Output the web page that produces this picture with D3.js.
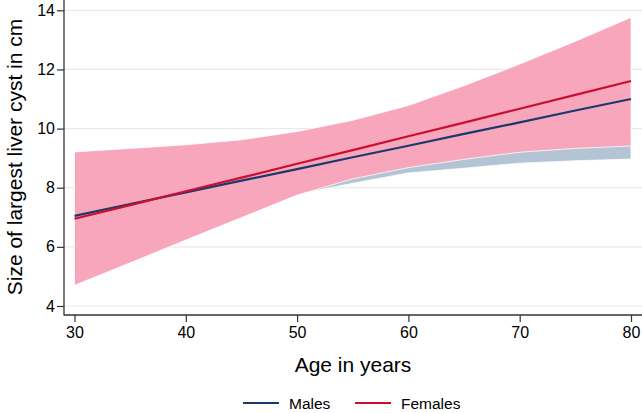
<!DOCTYPE html>
<html>
<head>
<meta charset="utf-8">
<script src="https://cdn.jsdelivr.net/npm/d3@7"></script>
<style>
  body { margin: 0; background: #fff; }
  text { font-family: "Liberation Sans", Arial, sans-serif; fill: #000; }
</style>
</head>
<body>
<div id="chart"></div>
<script>
// ages at which the fitted values / CI bounds were read
var ages = [30, 35, 40, 45, 50, 55, 60, 65, 70, 75, 80];

// fitted lines
var malesFit   = [7.05, 7.45, 7.84, 8.24, 8.63, 9.03, 9.42, 9.82, 10.21, 10.61, 11.00];
var femalesFit = [6.95, 7.41, 7.88, 8.34, 8.81, 9.27, 9.74, 10.20, 10.67, 11.14, 11.61];

// confidence bands
var malesLo   = [5.00, 5.75, 6.50, 7.20, 7.78, 8.15, 8.50, 8.66, 8.83, 8.91, 8.97];
var malesHi   = [9.05, 9.10, 9.20, 9.35, 9.60, 9.95, 10.40, 11.00, 11.70, 12.35, 13.00];
var femalesLo = [4.70, 5.46, 6.23, 6.99, 7.75, 8.30, 8.68, 8.96, 9.20, 9.33, 9.41];
var femalesHi = [9.21, 9.33, 9.45, 9.62, 9.90, 10.28, 10.78, 11.45, 12.18, 12.95, 13.76];

var xTicks = [30, 40, 50, 60, 70, 80];
var yTicks = [4, 6, 8, 10, 12, 14];

var series = ["Males", "Females"];
var lineColors = ["#1a3a6e", "#c8102e"];
var bandColors = ["#b3c5d5", "#f8a6bb"];

var W = 642, H = 413;
var left = 64, bottom = 315;

var svg = d3.select("#chart").append("svg")
    .attr("width", W).attr("height", H);

var x = d3.scaleLinear().domain([30, 80]).range([74.5, 631]);
var y = d3.scaleLinear().domain([4, 14]).range([306, 10.3]);

// gridlines
svg.append("g")
    .selectAll("line")
    .data(yTicks)
    .enter().append("line")
    .attr("x1", left).attr("x2", W)
    .attr("y1", d => y(d)).attr("y2", d => y(d))
    .attr("stroke", "#eaeaea").attr("stroke-width", 1.2);

function band(lo, hi) {
    return d3.area()
        .x((d, i) => x(ages[i]))
        .y0((d, i) => y(lo[i]))
        .y1((d, i) => y(hi[i]))(ages);
}

// male band first, female band on top
svg.append("path").attr("d", band(malesLo, malesHi))
    .attr("fill", bandColors[0]).attr("stroke", "#fff").attr("stroke-width", 0.8);
svg.append("path").attr("d", band(femalesLo, femalesHi))
    .attr("fill", bandColors[1]).attr("stroke", "#fff").attr("stroke-width", 0.8);

var line = d3.line().x((d, i) => x(ages[i])).y(d => y(d));

svg.append("path").attr("d", line(malesFit))
    .attr("fill", "none").attr("stroke", lineColors[0]).attr("stroke-width", 2.2);
svg.append("path").attr("d", line(femalesFit))
    .attr("fill", "none").attr("stroke", lineColors[1]).attr("stroke-width", 2.2);

// axes
var yAxis = svg.append("g")
    .attr("transform", `translate(${left},0)`)
    .call(d3.axisLeft(y).tickValues(yTicks).tickSize(7).tickPadding(2));
var xAxis = svg.append("g")
    .attr("transform", `translate(0,${bottom})`)
    .call(d3.axisBottom(x).tickValues(xTicks).tickSize(7).tickPadding(5));

[yAxis, xAxis].forEach(g => {
    g.select(".domain").remove();
    g.selectAll(".tick line").attr("stroke", "#333").attr("stroke-width", 1.2);
    g.selectAll(".tick text").attr("font-size", 16).attr("fill", "#000")
        .style("font-family", "Liberation Sans, Arial, sans-serif");
});

svg.append("line").attr("x1", left).attr("x2", left).attr("y1", 0).attr("y2", bottom + 0.5)
    .attr("stroke", "#333").attr("stroke-width", 1.3);
svg.append("line").attr("x1", left).attr("x2", W).attr("y1", bottom).attr("y2", bottom)
    .attr("stroke", "#333").attr("stroke-width", 1.3);

// axis titles
svg.append("text")
    .attr("x", 353).attr("y", 372)
    .attr("text-anchor", "middle")
    .attr("font-size", 21)
    .text("Age in years");

svg.append("text")
    .attr("transform", "translate(22,157) rotate(-90)")
    .attr("text-anchor", "middle")
    .attr("font-size", 21)
    .text("Size of largest liver cyst in cm");

// legend
var legendX = [243, 355];
var lg = svg.append("g");
series.forEach((s, i) => {
    lg.append("line")
        .attr("x1", legendX[i]).attr("x2", legendX[i] + 36)
        .attr("y1", 403).attr("y2", 403)
        .attr("stroke", lineColors[i]).attr("stroke-width", 2.2);
    lg.append("text")
        .attr("x", legendX[i] + 46).attr("y", 408.5)
        .attr("font-size", 15.5)
        .text(s);
});
</script>
</body>
</html>
